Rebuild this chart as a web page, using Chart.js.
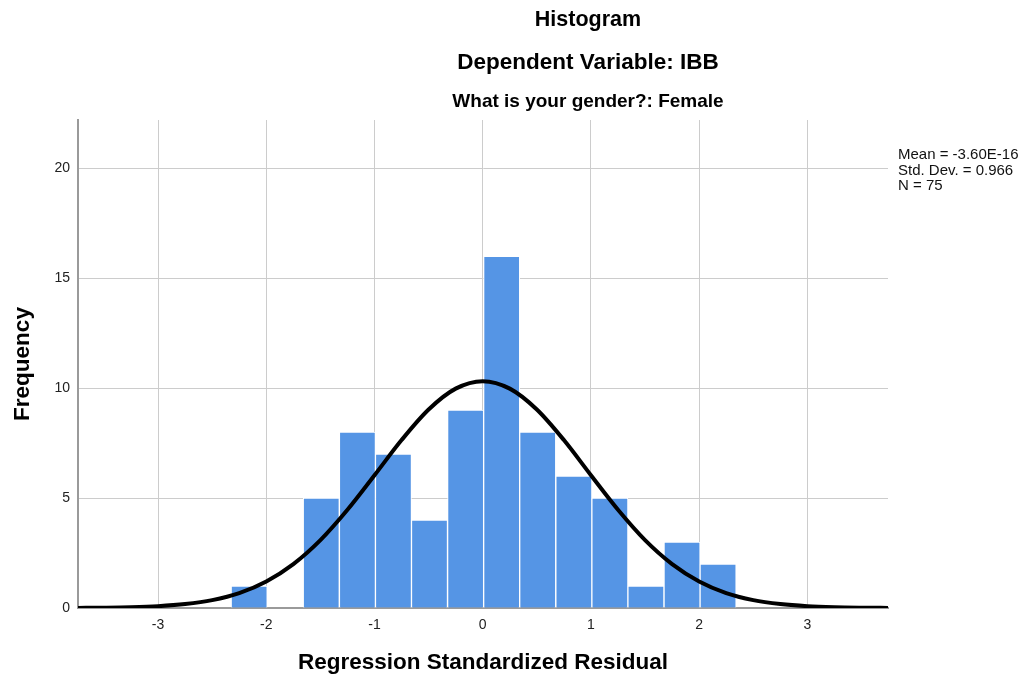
<!DOCTYPE html>
<html>
<head>
<meta charset="utf-8">
<script src="https://cdn.jsdelivr.net/npm/chart.js@4.4.1/dist/chart.umd.min.js"></script>
<style>
  html, body { margin: 0; padding: 0; background: #ffffff; }
  #wrap { position: relative; width: 1022px; height: 681px; }
</style>
</head>
<body>
<div id="wrap"><canvas id="c"></canvas></div>
<script>
// ---- data ----
const binCenters  = [-2.158, -1.825, -1.492, -1.158, -0.825, -0.492, -0.158, 0.175, 0.508, 0.842, 1.175, 1.508, 1.842, 2.175];
const frequencies = [1, 0, 5, 8, 7, 4, 9, 16, 8, 6, 5, 1, 3, 2];

const curveX = [-3.75, -3.5, -3.25, -3, -2.75, -2.5, -2.25, -2, -1.75, -1.5, -1.25, -1, -0.75, -0.5, -0.25, 0,
                0.25, 0.5, 0.75, 1, 1.25, 1.5, 1.75, 2, 2.25, 2.5, 2.75, 3, 3.25, 3.5, 3.75];
const curveY = [0.005, 0.015, 0.036, 0.083, 0.18, 0.36, 0.68, 1.21, 2.00, 3.09, 4.47, 6.04, 7.64, 9.03, 9.98, 10.32,
                9.98, 9.03, 7.64, 6.04, 4.47, 3.09, 2.00, 1.21, 0.68, 0.36, 0.18, 0.083, 0.036, 0.015, 0.005];

const xTickValues = [-3, -2, -1, 0, 1, 2, 3];
const yTickValues = [0, 5, 10, 15, 20];

const titleLines = ["Histogram", "Dependent Variable: IBB", "What is your gender?: Female"];
const statLines  = ["Mean = -3.60E-16", "Std. Dev. = 0.966", "N = 75"];
const xAxisTitle = "Regression Standardized Residual";
const yAxisTitle = "Frequency";

// ---- build library structures ----
const barPoints = binCenters.map((x, i) => ({ x: x, y: frequencies[i] }));
const curvePoints = curveX.map((x, i) => ({ x: x, y: curveY[i] }));

const FONT = "Arial, 'Liberation Sans', Helvetica, sans-serif";

const textPlugin = {
  id: 'texts',
  afterDraw(chart) {
    const ctx = chart.ctx;
    ctx.save();
    ctx.fillStyle = '#000000';
    ctx.textAlign = 'center';
    ctx.textBaseline = 'middle';
    const tFonts = ['bold 21.5px ' + FONT, 'bold 22.5px ' + FONT, 'bold 19px ' + FONT];
    const tY = [20, 63, 102];
    titleLines.forEach((t, i) => { ctx.font = tFonts[i]; ctx.fillText(t, 588, tY[i]); });

    // stats box
    ctx.textAlign = 'left';
    ctx.font = '15px ' + FONT;
    ctx.fillStyle = '#111111';
    const sY = [155, 171, 186];
    statLines.forEach((t, i) => ctx.fillText(t, 898, sY[i]));

    // axis titles
    const area = chart.chartArea;
    ctx.fillStyle = '#000000';
    ctx.textAlign = 'center';
    ctx.font = 'bold 22.5px ' + FONT;
    ctx.fillText(xAxisTitle, (area.left + area.right) / 2, 663);
    ctx.save();
    ctx.translate(23, (area.top + area.bottom) / 2);
    ctx.rotate(-Math.PI / 2);
    ctx.font = 'bold 22.5px ' + FONT;
    ctx.fillText(yAxisTitle, 0, 0);
    ctx.restore();
    ctx.restore();
  }
};

new Chart(document.getElementById('c'), {
  type: 'bar',
  data: {
    datasets: [
      {
        type: 'line',
        data: curvePoints,
        borderColor: '#000000',
        borderWidth: 4,
        pointRadius: 0,
        fill: false,
        cubicInterpolationMode: 'monotone',
        order: 0
      },
      {
        type: 'bar',
        data: barPoints,
        backgroundColor: '#5595E5',
        borderColor: '#ffffff',
        borderWidth: 1,
        categoryPercentage: 1.0,
        barPercentage: 1.0,
        order: 1
      }
    ]
  },
  options: {
    responsive: true,
    maintainAspectRatio: false,
    animation: false,
    layout: { padding: { top: 120, right: 134, left: 0, bottom: 0 } },
    plugins: { legend: { display: false }, tooltip: { enabled: false }, title: { display: false } },
    scales: {
      x: {
        type: 'linear',
        min: -3.74,
        max: 3.745,
        offset: false,
        afterFit(scale) { scale.height = 73; },
        afterBuildTicks(scale) { scale.ticks = xTickValues.map(v => ({ value: v })); },
        ticks: {
          padding: 9,
          color: '#222222',
          font: { family: FONT, size: 14 },
          callback: (v) => String(v)
        },
        grid: { color: '#cccccc', lineWidth: 1, drawTicks: false, offset: false },
        border: { display: true, color: '#9a9a9a', width: 2 }
      },
      y: {
        type: 'linear',
        min: 0,
        max: 22.2,
        afterFit(scale) { scale.width = 78; },
        afterBuildTicks(scale) { scale.ticks = yTickValues.map(v => ({ value: v })); },
        ticks: {
          padding: 8,
          color: '#222222',
          font: { family: FONT, size: 14 },
          callback: (v) => String(v)
        },
        grid: { color: '#cccccc', lineWidth: 1, drawTicks: false },
        border: { display: true, color: '#9a9a9a', width: 2 }
      }
    }
  },
  plugins: [textPlugin]
});
</script>
</body>
</html>
